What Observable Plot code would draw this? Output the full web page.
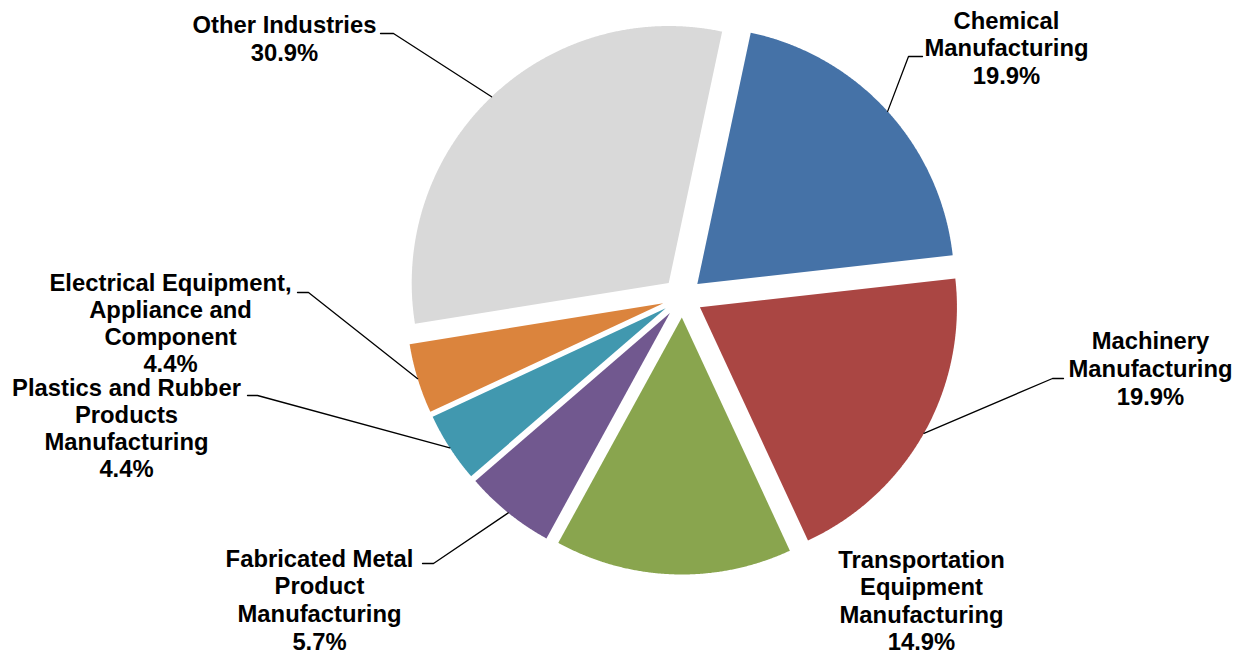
<!DOCTYPE html>
<html><head><meta charset="utf-8">
<script src="https://cdn.jsdelivr.net/npm/d3@7"></script>
<script src="https://cdn.jsdelivr.net/npm/@observablehq/plot@0.6"></script>
<style>body{margin:0;background:#fff} svg{display:block}</style>
</head><body><div id="chart"></div>
<script>
// ---- data ----
const categories = [
  "Chemical\nManufacturing",
  "Machinery\nManufacturing",
  "Transportation\nEquipment\nManufacturing",
  "Fabricated Metal\nProduct\nManufacturing",
  "Plastics and Rubber\nProducts\nManufacturing",
  "Electrical Equipment,\nAppliance and\nComponent",
  "Other Industries"
];
const shares = [19.9, 19.9, 14.9, 5.7, 4.4, 4.4, 30.9];
const colors = ["#4572A7", "#AA4643", "#89A54E", "#71588F", "#4198AF", "#DB843D", "#D9D9D9"];

// ---- layout ----
const W = 1238, H = 656;
const CX = 682, CY = 297, PX = 257;       // pie centre and radius in pixels
const explode = 20 / PX;                  // explosion distance (pie units)
const startDeg = 12;
const lineStep = [27.5, 28, 27.5, 27.7, 27, 27, 28.5];   // label line spacing (px)
const labelAt = [[1006, 28], [1150, 348], [921, 567], [319, 566], [126, 395], [170, 290], [284, 32]];
const elbowAt = [[908, 56], [1052, 378], null, [433, 563], [257, 395], [308, 292], [393, 33]];
const tailAt  = [[922, 56], [1063, 378], null, [422, 563], [247, 395], [297, 292], [380, 33]];
const ux = px => (px - CX) / PX;
const uy = py => (CY - py) / PX;

// ---- geometry derived from the data ----
const arcs = d3.pie().sort(null).value(d => d)
  .startAngle(startDeg * Math.PI / 180)
  .endAngle((startDeg + 360) * Math.PI / 180)(shares);

const slicePts = [];
const leaderPts = [];
arcs.forEach((a, i) => {
  const m = (a.startAngle + a.endAngle) / 2;
  const ox = explode * Math.sin(m), oy = explode * Math.cos(m);
  const key = categories[i];
  slicePts.push({key, x: ox, y: oy});
  const n = Math.max(2, Math.ceil((a.endAngle - a.startAngle) / (0.25 * Math.PI / 180)));
  for (let k = 0; k <= n; k++) {
    const t = a.startAngle + (a.endAngle - a.startAngle) * k / n;
    slicePts.push({key, x: ox + Math.sin(t), y: oy + Math.cos(t)});
  }
  if (elbowAt[i]) {
    leaderPts.push({key, x: ox + Math.sin(m), y: oy + Math.cos(m)});
    leaderPts.push({key, x: ux(elbowAt[i][0]), y: uy(elbowAt[i][1])});
    leaderPts.push({key, x: ux(tailAt[i][0]), y: uy(tailAt[i][1])});
  }
});

const textRows = [];
categories.forEach((c, i) => {
  const lines = (c + "\n" + shares[i].toFixed(1) + "%").split("\n");
  lines.forEach((line, j) => textRows.push({
    line, x: ux(labelAt[i][0]), y: uy(labelAt[i][1] + j * lineStep[i])
  }));
});

const chart = Plot.plot({
  width: W, height: H, margin: 0,
  x: {domain: [ux(0), ux(W)], axis: null},
  y: {domain: [uy(H), uy(0)], axis: null},
  color: {domain: categories, range: colors},
  style: {background: "white"},
  marks: [
    Plot.line(slicePts, {x: "x", y: "y", z: "key", fill: "key", stroke: null, curve: "linear-closed"}),
    Plot.line(leaderPts, {x: "x", y: "y", z: "key", stroke: "#000", strokeWidth: 1.3}),
    Plot.text(textRows, {
      x: "x", y: "y", text: "line", textAnchor: "middle", lineAnchor: "bottom",
      fontSize: 23.8, fontWeight: "bold", fontFamily: "Liberation Sans, Arial, sans-serif", fill: "#000"
    })
  ]
});
document.getElementById("chart").appendChild(chart);
</script>
</body></html>
